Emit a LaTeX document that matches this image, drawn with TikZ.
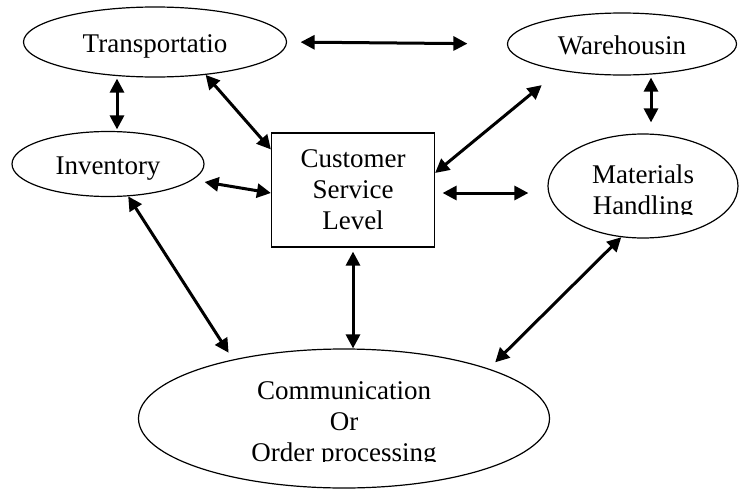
\documentclass[tikz,border=0pt]{standalone}
\usepackage{fontspec}
\setmainfont{Liberation Serif}
\usepackage{trimclip}
\usetikzlibrary{shapes.geometric,arrows.meta}

\begin{document}
\begin{tikzpicture}[x=1pt,y=-1pt,line width=1.2pt]
            \tikzstyle{every node}=[font=\fontsize{27}{31}\selectfont, align=center]
            \tikzstyle{blob}=[draw, ellipse, inner sep=0pt]
            \tikzstyle{oneline}=[text height=21pt, text depth=0pt]
            \tikzstyle{link}=[line width=3pt, {Triangle[length=14pt,width=14pt]}-{Triangle[length=14pt,width=14pt]}]
            \useasboundingbox (0,0) rectangle (739,490);
            \node[blob, oneline, minimum width=263pt, minimum height=70pt] (tr) at (155,42) {Transportatio};
            \node[blob, oneline, minimum width=229pt, minimum height=62pt] (wh) at (622,44) {Warehousin};
            \node[blob, oneline, minimum width=192pt, minimum height=65pt] (inv) at (108,164) {Inventory};
            \node[blob, minimum width=190pt, minimum height=104pt] (mh) at (643,186) {\rule{0pt}{26.3pt}Materials\\\clipbox{{0pt} {\depth} {0pt} {0pt}}{Handling}};
            \node[draw, minimum width=163pt, minimum height=114pt] (csl) at (353,190) {Customer\\Service\\Level};
            \node[blob, minimum width=411pt, minimum height=139pt] (cop) at (344,418.5) {\rule{0pt}{24pt}Communication\\Or\\\clipbox{{0pt} {\depth} {0pt} {0pt}}{Order processing}};

            \draw[link, shorten <=13.5pt, shorten >=39.5pt] (tr.east) -- (wh.west);
            \draw[link, shorten <=1.5pt, shorten >=1pt] ([xshift=9pt]inv.north) -- ([xshift=9pt]inv.north |- tr.south);
            \draw[link] (tr.-33) -- ([yshift=-17pt]csl.north west);
            \draw[link] ([yshift=-18pt]inv.east) -- ([yshift=-3pt]csl.west);
            \draw[link, shorten >=23pt] ([yshift=17pt]csl.east) -- (wh.-157);
            \draw[link, shorten <=7.5pt, shorten >=19pt] ([yshift=-3pt]csl.east) -- ([yshift=-3pt]csl.east -| mh.west);
            \draw[link, shorten <=11pt, shorten >=2pt] ([xshift=8pt]mh.north) -- ([xshift=8pt]mh.north |- wh.south);
            \draw[link, shorten <=4pt] (csl.south) -- (csl.south |- cop.north);
            \draw[link, shorten >=8pt] (inv.-58) -- (cop.152);
            \draw[link, shorten >=9pt] (mh.-113) -- (cop.19.6);
        \end{tikzpicture}
\end{document}
